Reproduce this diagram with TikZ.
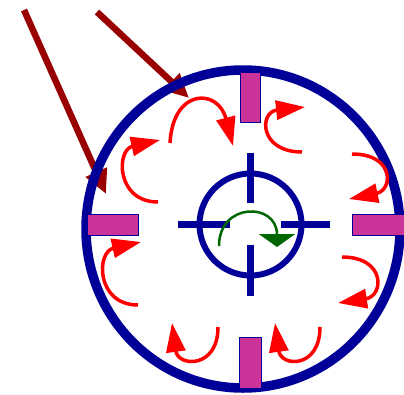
\documentclass[tikz,border=0pt]{standalone}
\usetikzlibrary{arrows.meta}
\definecolor{ringblue}{RGB}{0,0,153}
\definecolor{padmag}{RGB}{204,51,153}
\definecolor{beamred}{RGB}{153,0,0}
\definecolor{rotgreen}{RGB}{0,102,0}
\begin{document}
\begin{tikzpicture}[x=1pt,y=-1pt,
  ring/.style={draw=ringblue,line width=9.5pt},
  pad/.style={draw=ringblue,fill=padmag,line width=1pt},
  eddy/.style={draw=red,line width=3.5pt,-{Triangle[length=29pt,width=19pt]}},
  beam/.style={draw=beamred,line width=6.5pt,-{Triangle[length=24pt,width=22pt]}},
  hub/.style={draw=ringblue,line width=6pt},
  hair/.style={draw=ringblue,line width=7pt},
  spin/.style={draw=rotgreen,line width=2.5pt,-{Triangle[length=13pt,width=36pt]}}]
\useasboundingbox (0,0) rectangle (404,394);
% incoming beams
\coordinate (b1s) at (24,10);   \coordinate (b1e) at (106,194);
\coordinate (b2s) at (97,12);   \coordinate (b2e) at (189,98);
\draw[beam] (b1s) -- (b1e);
\draw[beam] (b2s) -- (b2e);
% outer ring
\coordinate (rc) at (243,229);
\draw[ring] (rc) ellipse [x radius=157, y radius=159];
% pads
\draw[pad] (240,72) rectangle (260,122);
\draw[pad] (239,337) rectangle (261,388);
\draw[pad] (87,214) rectangle (138,235);
\draw[pad] (352,214) rectangle (408,235);
% eddies
\draw[eddy] (170,143) .. controls (173,88) and (218,88) .. (233,146);
\draw[eddy] (158,202) .. controls (116,202) and (116,150) .. (160,140);
\draw[eddy] (302,152) .. controls (259,152) and (259,112) .. (305,107);
\draw[eddy] (352,154) .. controls (395,154) and (393,190) .. (349,199);
\draw[eddy] (342,257) .. controls (386,257) and (384,296) .. (338,303);
\draw[eddy] (138,305) .. controls (96,305) and (96,252) .. (141,242);
\draw[eddy] (218,327) .. controls (218,369) and (178,367) .. (172,323);
\draw[eddy] (320,327) .. controls (320,369) and (281,367) .. (275,323);
% hub and crosshair
\coordinate (hc) at (250.5,224.5);
\draw[hub] (hc) circle [radius=51];
\draw[hair] (250,153) -- (250,203);
\draw[hair] (250,245) -- (250,296);
\draw[hair] (178,224) -- (230,224);
\draw[hair] (281,224) -- (330,224);
% rotation
\draw[spin] (219,246) .. controls (219,202) and (277,202) .. (277,247);
\end{tikzpicture}
\end{document}
